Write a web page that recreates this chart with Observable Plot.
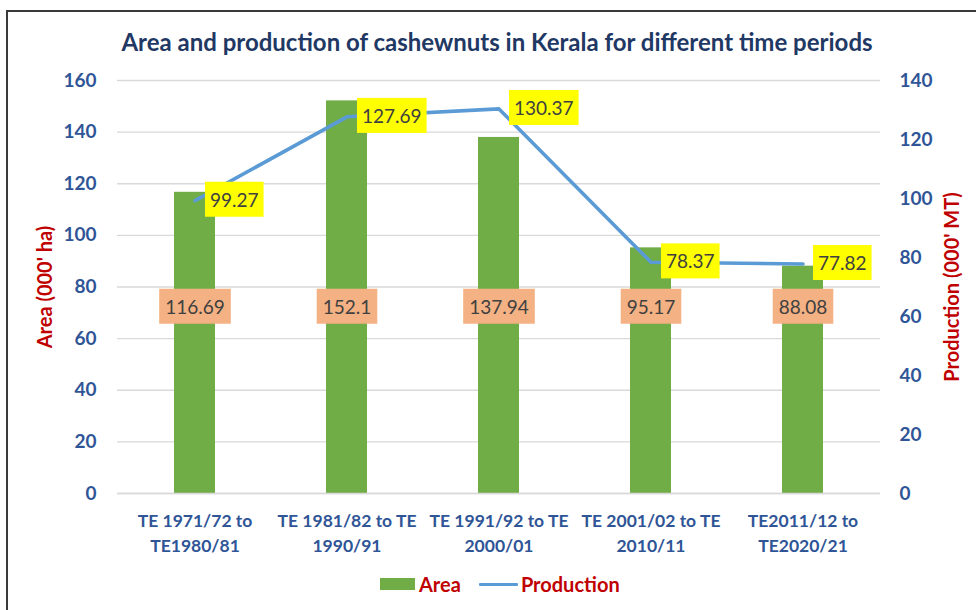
<!DOCTYPE html>
<html>
<head>
<meta charset="utf-8">
<script src="https://cdn.jsdelivr.net/npm/d3@7"></script>
<script src="https://cdn.jsdelivr.net/npm/@observablehq/plot@0.6"></script>
<style>
  html, body { margin: 0; padding: 0; background: #fff; }
  body { width: 976px; height: 610px; overflow: hidden; position: relative; font-family: Lato, "Open Sans", sans-serif; }
  #frame { position: absolute; left: 6px; top: 10px; width: 1000px; height: 700px; border-top: 2px solid #3a3a3a; border-left: 2px solid #3a3a3a; pointer-events: none; }
  #title { position: absolute; left: 0; top: 27px; width: 976px; padding-left: 18px; box-sizing: border-box; text-align: center; font-size: 24px; line-height: 30px; font-weight: bold; color: #1F3864; }
  #chart { position: absolute; left: 0; top: 62px; }
  #legend { position: absolute; left: 380px; top: 572px; height: 24px; display: flex; align-items: center; font-size: 20px; font-weight: bold; color: #C00000; }
  .sw { display: inline-block; width: 35px; height: 12px; background: #70AD47; margin-right: 4px; }
  .ln { display: inline-block; width: 39px; height: 3px; background: #5B9BD5; margin-left: 18px; margin-right: 3px; border-radius: 1px; }
</style>
</head>
<body>
<div id="frame"></div>
<div id="title">Area and production of cashewnuts in Kerala for different time periods</div>
<div id="chart"></div>
<div id="legend"><span class="sw"></span><span>Area</span><span class="ln"></span><span>Production</span></div>
<script>
const categories = [
  "TE 1971/72 to\nTE1980/81",
  "TE 1981/82 to TE\n1990/91",
  "TE 1991/92 to TE\n2000/01",
  "TE 2001/02 to TE\n2010/11",
  "TE2011/12 to\nTE2020/21"
];
const area = [116.69, 152.1, 137.94, 95.17, 88.08];
const production = [99.27, 127.69, 130.37, 78.37, 77.82];
const areaTicks = [0, 20, 40, 60, 80, 100, 120, 140, 160];
const productionTicks = [0, 20, 40, 60, 80, 100, 120, 140];

const areaMax = 160, prodMax = 140;
const k = areaMax / prodMax; // map production onto the area scale
const areaLabelLevel = 72;   // level (in area units) where bar value boxes sit

const data = categories.map((c, i) => ({cat: c, area: area[i], production: production[i]}));

const tickStyle = {fontSize: 19, fontWeight: "bold", fill: "#2F5597"};

const chart = Plot.plot({
  width: 976,
  height: 498,
  marginTop: 18,
  marginBottom: 67,
  marginLeft: 117,
  marginRight: 96,
  style: {fontFamily: "Lato, 'Open Sans', sans-serif", background: "transparent", overflow: "visible"},
  x: {domain: categories, paddingInner: 0.73, paddingOuter: 0.365, label: null},
  y: {domain: [0, areaMax], label: null},
  marks: [
    Plot.gridY(areaTicks, {stroke: "#d9d9d9", strokeOpacity: 1, strokeWidth: 1.4}),
    Plot.barY(data, {x: "cat", y: "area", fill: "#70AD47"}),
    Plot.ruleY([0], {stroke: "#d9d9d9", strokeWidth: 1.6}),
    Plot.lineY(data, {x: "cat", y: d => d.production * k, stroke: "#5B9BD5", strokeWidth: 3.6}),
    Plot.text(data, {x: "cat", y: () => areaLabelLevel, text: d => String(d.area), fontSize: 19, fill: "#404040", ariaDescription: "area-labels"}),
    Plot.text(data, {x: "cat", y: d => d.production * k, text: d => String(d.production), textAnchor: "start", dx: 15, fontSize: 19, fill: "#404040", ariaDescription: "prod-labels"}),
    Plot.axisX({tickSize: 0, tickPadding: 15, fontSize: 17.5, fontWeight: "bold", fill: "#2F5597", lineHeight: 1.45, label: null}),
    Plot.axisY(areaTicks, {anchor: "left", tickSize: 0, tickPadding: 21, label: null, ...tickStyle}),
    Plot.axisY(productionTicks.map(v => v * k), {anchor: "right", tickSize: 0, tickPadding: 19, label: null, textAnchor: "start", tickFormat: v => String(Math.round(v / k)), ...tickStyle}),
    Plot.axisY([], {anchor: "left", label: "Area (000' ha)", labelAnchor: "center", labelArrow: "none", labelOffset: 80, fontSize: 20, fontWeight: "bold", fill: "#C00000"}),
    Plot.axisY([], {anchor: "right", label: "Production (000' MT)", labelAnchor: "center", labelArrow: "none", labelOffset: 78, fontSize: 20, fontWeight: "bold", fill: "#C00000"})
  ]
});
document.getElementById("chart").appendChild(chart);

// label boxes behind the data labels
const svgNS = "http://www.w3.org/2000/svg";
function boxes(sel, fill, px, py) {
  chart.querySelectorAll(`g[aria-description="${sel}"] text`).forEach(t => {
    const b = t.getBBox();
    const r = document.createElementNS(svgNS, "rect");
    r.setAttribute("x", b.x - px);
    r.setAttribute("y", b.y - py);
    r.setAttribute("width", b.width + 2 * px);
    r.setAttribute("height", b.height + 2 * py);
    r.setAttribute("fill", fill);
    const tr = t.getAttribute("transform");
    if (tr) r.setAttribute("transform", tr);
    t.parentNode.insertBefore(r, t);
  });
}
boxes("area-labels", "#F4B183", 6, 6);
boxes("prod-labels", "#FFFF00", 5, 6);
</script>
</body>
</html>
